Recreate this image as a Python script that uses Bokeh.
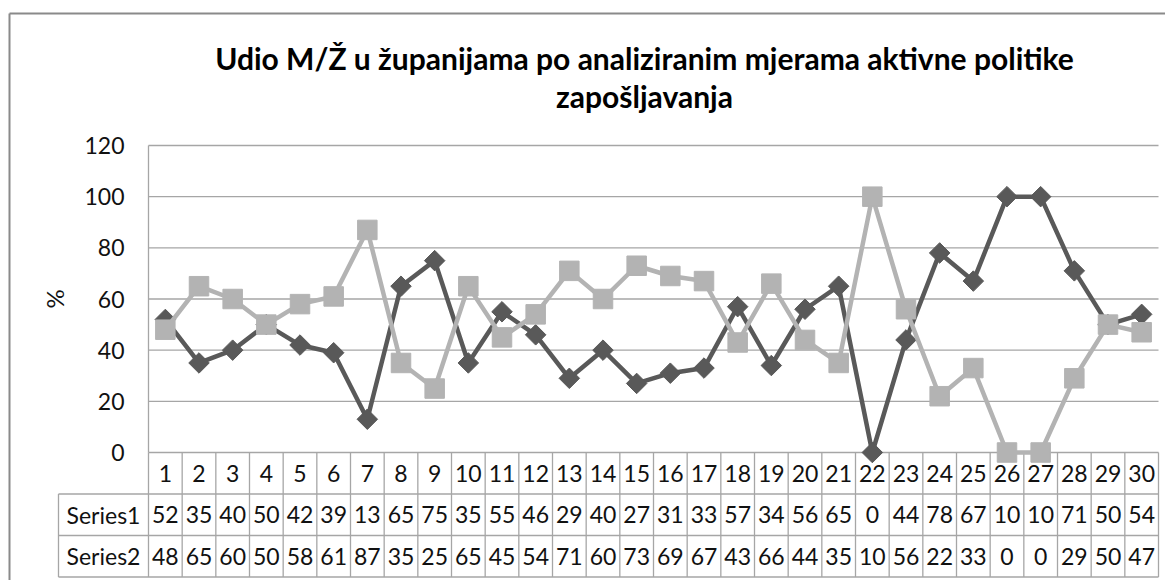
import numpy as np
from bokeh.plotting import figure
from bokeh.models import LinearAxis, FixedTicker, Range1d
from bokeh.core.properties import value
from bokeh.embed import file_html
from bokeh.resources import INLINE

# ---------------- data ----------------
categories = list(range(1, 31))
series1 = [52, 35, 40, 50, 42, 39, 13, 65, 75, 35, 55, 46, 29, 40, 27,
           31, 33, 57, 34, 56, 65, 0, 44, 78, 67, 100, 100, 71, 50, 54]
series2 = [48, 65, 60, 50, 58, 61, 87, 35, 25, 65, 45, 54, 71, 60, 73,
           69, 67, 43, 66, 44, 35, 100, 56, 22, 33, 0, 0, 29, 50, 47]
series_names = ["Series1", "Series2"]
y_ticks = [0, 20, 40, 60, 80, 100, 120]
title_lines = ["Udio M/Ž u županijama po analiziranim mjerama aktivne politike",
               "zapošljavanja"]

# ---------------- layout (page pixels -> data) ----------------
W, H = 1165, 580
PAGE0 = 0
PLOT_L, PLOT_R = 148.0, 1158.0      # page x of category 0.5 / 30.5
Y0_PAGE, Y120_PAGE = 452.0, 145.0   # page y of value 0 / 120
PX_X = (PLOT_R - PLOT_L) / len(categories)
PX_Y = (Y0_PAGE - Y120_PAGE) / 120.0


def px2x(px):
    return 0.5 + (px - PLOT_L) / PX_X


def px2y(py):
    return (Y0_PAGE - py) / PX_Y


x_start, x_end = px2x(PAGE0), px2x(PAGE0 + W)
y_start, y_end = px2y(PAGE0 + H), px2y(PAGE0)

DARK = "#595959"
LIGHT = "#b3b3b3"
GRID = "#a6a6a6"
FONT = value("Lato")

p = figure(width=W, height=H, x_range=Range1d(x_start, x_end),
           y_range=Range1d(y_start, y_end), output_backend="svg",
           toolbar_location=None, x_axis_location=None, y_axis_location=None,
           min_border=0, outline_line_color=None)
p.min_border_left = p.min_border_right = p.min_border_top = p.min_border_bottom = 0
p.background_fill_color = "white"
p.border_fill_color = "white"
p.grid.visible = False

# outer chart border
bx0, bx1 = px2x(9), px2x(1200)
by0, by1 = px2y(13), px2y(620)
p.line([bx0, bx1], [by0, by0], line_color="#8a8a8a", line_width=2)
p.line([bx0, bx0], [by0, by1], line_color="#8a8a8a", line_width=2)

# horizontal gridlines
x_lo, x_hi = 0.5, len(categories) + 0.5
p.segment(x0=[x_lo] * len(y_ticks), x1=[x_hi] * len(y_ticks),
          y0=y_ticks, y1=y_ticks, line_color=GRID, line_width=1.3)
# value axis line
p.segment(x0=[x_lo], x1=[x_lo], y0=[0], y1=[max(y_ticks)], line_color=GRID, line_width=1.3)

# ---------------- data table ----------------
row_edges_px = [452.0, 493.5, 535.0, 576.5]
row_edges = [px2y(v) for v in row_edges_px]
label_left = px2x(58)
# horizontal table lines
p.segment(x0=[label_left] * 3, x1=[x_hi] * 3, y0=row_edges[1:], y1=row_edges[1:],
          line_color=GRID, line_width=1.3)
# vertical table lines
vx = [c - 0.5 for c in categories] + [x_hi]
p.segment(x0=vx, x1=vx, y0=[0] * len(vx), y1=[row_edges[3]] * len(vx),
          line_color=GRID, line_width=1.3)
p.segment(x0=[label_left], x1=[label_left], y0=[row_edges[1]], y1=[row_edges[3]],
          line_color=GRID, line_width=1.3)

row_mid = [(row_edges[i] + row_edges[i + 1]) / 2 for i in range(3)]
TXT = dict(text_align="center", text_baseline="middle", text_font=FONT,
           text_font_size=value("23px"), text_color="#111111")
p.text(x=categories, y=[row_mid[0]] * len(categories),
       text=[str(c) for c in categories], **TXT)
p.text(x=categories, y=[row_mid[1]] * len(categories),
       text=[str(v)[:2] for v in series1], **TXT)
p.text(x=categories, y=[row_mid[2]] * len(categories),
       text=[str(v)[:2] for v in series2], **TXT)
label_cx = (label_left + x_lo) / 2
p.text(x=[label_cx, label_cx], y=row_mid[1:], text=series_names, **TXT)

# ---------------- series ----------------
p.line(categories, series1, line_color=DARK, line_width=4.5)
p.scatter(categories, series1, marker="square", angle=np.pi / 4, size=14.5,
          fill_color=DARK, line_color=DARK)
p.line(categories, series2, line_color=LIGHT, line_width=4.5)
p.scatter(categories, series2, marker="square", size=19.5,
          fill_color=LIGHT, line_color=LIGHT)

# ---------------- title ----------------
tx = px2x(644)
p.text(x=[tx, tx], y=[px2y(57), px2y(95)], text=title_lines,
       text_align="center", text_baseline="middle", text_font=FONT,
       text_font_size=value("30px"), text_font_style="bold", text_color="#000000")

# ---------------- value axis ----------------
yaxis = LinearAxis(fixed_location=0.5, ticker=FixedTicker(ticks=y_ticks),
                   bounds=(0, 120), axis_label="%")
yaxis.axis_line_color = None
yaxis.major_tick_line_color = None
yaxis.minor_tick_line_color = None
yaxis.major_tick_out = 0
yaxis.major_tick_in = 0
yaxis.major_label_standoff = 24
yaxis.major_label_text_font = "Lato"
yaxis.major_label_text_font_size = "23px"
yaxis.major_label_text_color = "#111111"
yaxis.axis_label_text_font = "Lato"
yaxis.axis_label_text_font_size = "24px"
yaxis.axis_label_text_font_style = "normal"
yaxis.axis_label_text_color = "#111111"
yaxis.axis_label_standoff = 12
p.add_layout(yaxis, "left")

open("out.html", "w").write(file_html(p, INLINE))
